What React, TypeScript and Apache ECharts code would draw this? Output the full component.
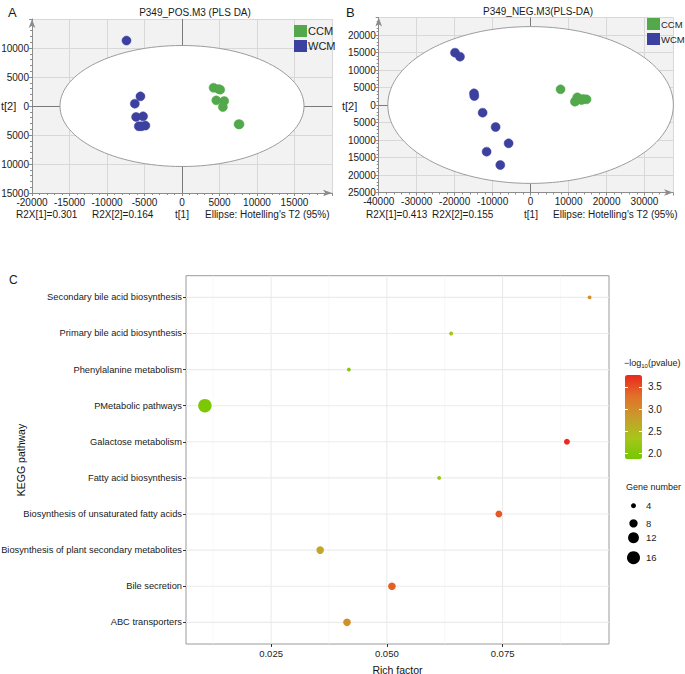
import React, { useEffect, useRef } from 'react';
import * as echarts from 'echarts';

// ---------- Panel A (POS) ----------
const posCCM = [[4210, 3150], [4880, 2920], [5100, 2810], [4570, 970], [5630, 860], [5450, -170], [7540, -3150], [7670, -3150]];
const posWCM = [[-7400, 11280], [-5540, 1660], [-6290, 400], [-6120, -1890], [-5190, -1780], [-5760, -3490], [-4880, -3380], [-5400, -3500]];
const posEllipse = [[16270, 10430]];
// ---------- Panel B (NEG) ----------
const negCCM = [[7890, 4480], [12280, 2190], [11670, 950], [13860, 1710], [14740, 1620], [13420, 1430], [12600, 1900], [11900, 1200]];
const negWCM = [[-19910, 14950], [-18600, 13810], [-14910, 3330], [-14820, 2570], [-12630, -2190], [-9210, -6290], [-5790, -10950], [-11580, -13330], [-7980, -17140]];
const negEllipse = [[37600, 22400]];
// ---------- Panel C (KEGG) ----------
const pathways = [
  'Secondary bile acid biosynthesis',
  'Primary bile acid biosynthesis',
  'Phenylalanine metabolism',
  'PMetabolic pathways',
  'Galactose metabolism',
  'Fatty acid biosynthesis',
  'Biosynthesis of unsaturated fatty acids',
  'Biosynthesis of plant secondary metabolites',
  'Bile secretion',
  'ABC transporters',
];
const richFactor = [0.0938, 0.0639, 0.0418, 0.0107, 0.0889, 0.0613, 0.0742, 0.0356, 0.0511, 0.0414];
const geneNumber = [3, 3, 3, 17, 5, 3, 6, 7, 7, 7];
const negLogP = [2.95, 2.3, 2.05, 1.95, 3.75, 2.25, 3.45, 2.7, 3.4, 2.95];
const richTicks = [0.025, 0.05, 0.075];
const richMinor = [0.0125, 0.0375, 0.0625, 0.0875];
const pTicks = [2.0, 2.5, 3.0, 3.5];
const geneLegend = [4, 8, 12, 16];

const SANS = "'Liberation Sans', Arial, sans-serif";
const GREEN = '#52a84b';
const BLUE = '#3c409e';
const C_YMIN = -0.6;
const C_YMAX = 9.6;
const C_XMIN = 0.00662;
const C_XMAX = 0.09799;

const sizeFn = (n: number) => Math.max(2, -3 + 4 * Math.sqrt(n));

function pcaX(gi: number, min: number, max: number, interval: number) {
  return {
    gridIndex: gi, type: 'value', min, max, interval,
    axisLine: { show: true, onZero: false, symbol: ['none', 'arrow'], symbolSize: [5, 9], lineStyle: { color: '#8c8c8c', width: 1 } },
    axisTick: { show: true, length: 3, lineStyle: { color: '#8c8c8c' } },
    minorTick: { show: true, splitNumber: 5, length: 2, lineStyle: { color: '#8c8c8c' } },
    axisLabel: {
      fontSize: 10, color: '#1a1a1a', margin: 4, fontFamily: SANS, showMaxLabel: false,
      formatter: (v: number) => (v % interval === 0 ? String(v) : ''),
    },
    splitLine: { show: true, lineStyle: { color: '#d8d8d8', width: 1 } },
  };
}
function pcaY(gi: number, min: number, max: number, interval: number) {
  return {
    gridIndex: gi, type: 'value', min, max, interval,
    axisLine: { show: true, onZero: false, symbol: ['none', 'arrow'], symbolSize: [5, 9], lineStyle: { color: '#8c8c8c', width: 1 } },
    axisTick: { show: true, length: 3, lineStyle: { color: '#8c8c8c' } },
    minorTick: { show: true, splitNumber: 5, length: 2, lineStyle: { color: '#8c8c8c' } },
    axisLabel: {
      fontSize: 10, color: '#1a1a1a', margin: 3, fontFamily: SANS, showMaxLabel: false,
      formatter: (v: number) => String(Math.abs(v)),
    },
    splitLine: { show: true, lineStyle: { color: '#d8d8d8', width: 1 } },
  };
}
function ellipseSeries(name: string, xi: number, data: number[][]) {
  return {
    name, type: 'custom', xAxisIndex: xi, yAxisIndex: xi, z: 2, clip: true, silent: true,
    data,
    renderItem: (_p: any, api: any) => {
      const c = api.coord([0, 0]);
      const s = api.size([api.value(0), api.value(1)]);
      return {
        type: 'ellipse',
        shape: { cx: c[0], cy: c[1], rx: s[0], ry: s[1] },
        style: { fill: '#ffffff', stroke: '#9c9c9c', lineWidth: 1 },
      };
    },
    markLine: {
      z: 2, silent: true, symbol: ['none', 'none'], label: { show: false },
      lineStyle: { color: '#7a7a7a', width: 1, type: 'solid' },
      data: [{ xAxis: 0 }, { yAxis: 0 }],
    },
  };
}
function dots(name: string, xi: number, data: number[][], color: string) {
  return {
    name, type: 'scatter', xAxisIndex: xi, yAxisIndex: xi, z: 3, data, symbolSize: 9,
    itemStyle: { color, opacity: 1, borderColor: color, borderWidth: 0.5 },
  };
}

function txt(x: number, y: number, text: string, size = 10, align = 'left', color = '#1a1a1a', rotation = 0) {
  return {
    type: 'text', x, y, rotation, silent: true,
    style: { text, fontSize: size, fontFamily: SANS, fill: color, align, textAlign: align, verticalAlign: 'middle', textVerticalAlign: 'middle' },
  };
}

// grid lines of panel C: [kind (0 vertical / 1 horizontal), value, major flag]
const gridLinesC = [
  ...richMinor.map((v) => [0, v, 0]),
  ...richTicks.map((v) => [0, v, 1]),
  ...pathways.map((_, i) => [1, i, 1]),
];

export default function App() {
  const ref = useRef<HTMLDivElement>(null);
  useEffect(() => {
    if (!ref.current) return;
    const chart = echarts.init(ref.current, null, { renderer: 'svg' });
    const legendY = [505.7, 523.3, 537.7, 557.7];
    const option: any = {
      animation: false,
      textStyle: { fontFamily: SANS },
      grid: [
        { left: 32, top: 19, width: 300, height: 174, show: true, backgroundColor: '#f2f2f2', borderWidth: 0, outerBoundsMode: 'none', containLabel: false },
        { left: 378.7, top: 17.5, width: 294.3, height: 175, show: true, backgroundColor: '#f2f2f2', borderWidth: 0, outerBoundsMode: 'none', containLabel: false },
        { left: 186, top: 275.7, width: 423, height: 368.3, show: true, backgroundColor: '#ffffff', borderColor: '#9a9a9a', borderWidth: 1, outerBoundsMode: 'none', containLabel: false },
        { left: 625, top: 375, width: 17, height: 84.3, show: false, outerBoundsMode: 'none', containLabel: false },
      ],
      xAxis: [
        pcaX(0, -20000, 20000, 5000),
        pcaX(1, -40000, 37500, 10000),
        {
          gridIndex: 2, type: 'value', min: C_XMIN, max: C_XMAX, position: 'bottom',
          axisLine: { show: false, onZero: false }, splitLine: { show: false },
          axisTick: { show: true, customValues: richTicks, length: 3, lineStyle: { color: '#333' } },
          axisLabel: { customValues: richTicks, formatter: (v: number) => v.toFixed(3), fontSize: 9.5, color: '#222', margin: 4, fontFamily: SANS },
          name: 'Rich factor', nameLocation: 'middle', nameGap: 20,
          nameTextStyle: { fontSize: 10.5, color: '#111', fontFamily: SANS },
        },
        { gridIndex: 3, type: 'value', min: 0, max: 1, show: false, axisLine: { onZero: false } },
      ],
      yAxis: [
        pcaY(0, -15000, 15000, 5000),
        pcaY(1, -25000, 25000, 5000),
        {
          gridIndex: 2, type: 'value', min: C_YMIN, max: C_YMAX, inverse: true, position: 'left',
          axisLine: { show: false, onZero: false }, splitLine: { show: false },
          axisTick: { show: true, customValues: pathways.map((_, i) => i), length: 3, lineStyle: { color: '#333' } },
          axisLabel: {
            customValues: pathways.map((_, i) => i), formatter: (v: number) => pathways[Math.round(v)] ?? '',
            fontSize: 9.3, color: '#1a1a1a', margin: 4, fontFamily: SANS,
          },
        },
        {
          gridIndex: 3, type: 'value', min: 1.87, max: 3.77, position: 'right', z: 10,
          axisLine: { show: false, onZero: false }, splitLine: { show: false },
          axisTick: { show: true, inside: true, customValues: pTicks, length: 3, lineStyle: { color: '#ffffff' } },
          axisLabel: { customValues: pTicks, formatter: (v: number) => v.toFixed(1), fontSize: 10, color: '#222', margin: 6, fontFamily: SANS },
        },
        {
          gridIndex: 3, type: 'value', min: 1.87, max: 3.77, position: 'left', z: 10,
          axisLine: { show: false, onZero: false }, splitLine: { show: false },
          axisTick: { show: true, inside: true, customValues: pTicks, length: 3, lineStyle: { color: '#ffffff' } },
          axisLabel: { show: false },
        },
      ],
      legend: [
        {
          left: 294, top: 25, orient: 'vertical', padding: 0, itemWidth: 11, itemHeight: 10, itemGap: 3, icon: 'rect',
          data: ['CCM', 'WCM'], textStyle: { fontSize: 11, color: '#222', fontFamily: SANS, padding: [0, 0, 0, -3] },
          selectedMode: false,
        },
        {
          left: 647, top: 18, orient: 'vertical', padding: 0, itemWidth: 11, itemHeight: 10, itemGap: 3, icon: 'rect',
          data: ['CCM', 'WCM'], textStyle: { fontSize: 9.5, color: '#222', fontFamily: SANS, padding: [0, 0, 0, -3] },
          selectedMode: false,
        },
      ],
      visualMap: {
        type: 'continuous', min: 1.87, max: 3.77, dimension: 3, seriesIndex: 7,
        left: 625, top: 375, itemWidth: 17, itemHeight: 84.3, padding: 0,
        calculable: false, showLabel: false, hoverLink: false,
        inRange: { color: ['#74c800', '#a6c61a', '#c89c2c', '#e2702a', '#e8281c'] },
      },
      series: [
        ellipseSeries('ellA', 0, posEllipse),
        dots('CCM', 0, posCCM, GREEN),
        dots('WCM', 0, posWCM, BLUE),
        ellipseSeries('ellB', 1, negEllipse),
        dots('CCM', 1, negCCM, GREEN),
        dots('WCM', 1, negWCM, BLUE),
        {
          name: 'gridC', type: 'custom', xAxisIndex: 2, yAxisIndex: 2, z: 1, silent: true,
          data: gridLinesC,
          encode: { x: 1, y: 1 },
          renderItem: (_p: any, api: any) => {
            const kind = api.value(0);
            const v = api.value(1);
            const major = api.value(2) === 1;
            const p1 = kind === 0 ? api.coord([v, C_YMIN]) : api.coord([C_XMIN, v]);
            const p2 = kind === 0 ? api.coord([v, C_YMAX]) : api.coord([C_XMAX, v]);
            return {
              type: 'line',
              shape: { x1: p1[0], y1: p1[1], x2: p2[0], y2: p2[1] },
              style: { stroke: major ? '#ebebeb' : '#f3f3f3', lineWidth: major ? 1.1 : 0.6 },
            };
          },
        },
        {
          name: 'kegg', type: 'scatter', xAxisIndex: 2, yAxisIndex: 2, z: 3,
          data: richFactor.map((x, i) => [x, i, geneNumber[i], negLogP[i]]),
          encode: { x: 0, y: 1 },
          symbolSize: (d: number[]) => sizeFn(d[2]),
          itemStyle: { opacity: 1 },
        },
      ],
      graphic: [
        txt(8, 12, 'A', 13),
        txt(195, 12, 'P349_POS.M3 (PLS DA)', 10, 'center'),
        txt(346, 12, 'B', 13),
        txt(538, 11, 'P349_NEG.M3(PLS-DA)', 10, 'center'),
        txt(1, 106, 't[2]', 11),
        txt(342, 106, 't[2]', 11),
        txt(182, 214, 't[1]', 10, 'center'),
        txt(531, 214, 't[1]', 10, 'center'),
        txt(16, 214, 'R2X[1]=0.301', 10),
        txt(92, 214, 'R2X[2]=0.164', 10),
        txt(205, 214, "Ellipse: Hotelling's T2 (95%)", 10),
        txt(366, 214, 'R2X[1]=0.413', 10),
        txt(432, 214, 'R2X[2]=0.155', 10),
        txt(553, 214, "Ellipse: Hotelling's T2 (95%)", 10),
        txt(9, 280, 'C', 12),
        txt(21, 460, 'KEGG pathway', 10.5, 'center', '#111', Math.PI / 2),
        {
          type: 'text', x: 624, y: 363, silent: true,
          style: {
            text: '{a|\u2212log}{b|10}{a|(pvalue)}', fill: '#222', align: 'left', verticalAlign: 'middle',
            textAlign: 'left', textVerticalAlign: 'middle',
            rich: {
              a: { fontSize: 9, fontFamily: SANS, fill: '#222', color: '#222' },
              b: { fontSize: 6, fontFamily: SANS, fill: '#222', color: '#222', verticalAlign: 'bottom', padding: [5, 0, 0, 0] },
            },
          },
        },
        txt(626, 487, 'Gene number', 9, 'left', '#222'),
        ...geneLegend.map((g, i) => ({
          type: 'circle', silent: true, shape: { cx: 633.5, cy: legendY[i], r: sizeFn(g) / 2 }, style: { fill: '#000' },
        })),
        ...geneLegend.map((g, i) => txt(646, legendY[i], String(g), 9.5, 'left', '#222')),
      ],
    };
    chart.setOption(option);
    return () => chart.dispose();
  }, []);
  return <div ref={ref} style={{ position: 'absolute', left: 0, top: 0, width: 685, height: 674, background: '#fff' }} />;
}
